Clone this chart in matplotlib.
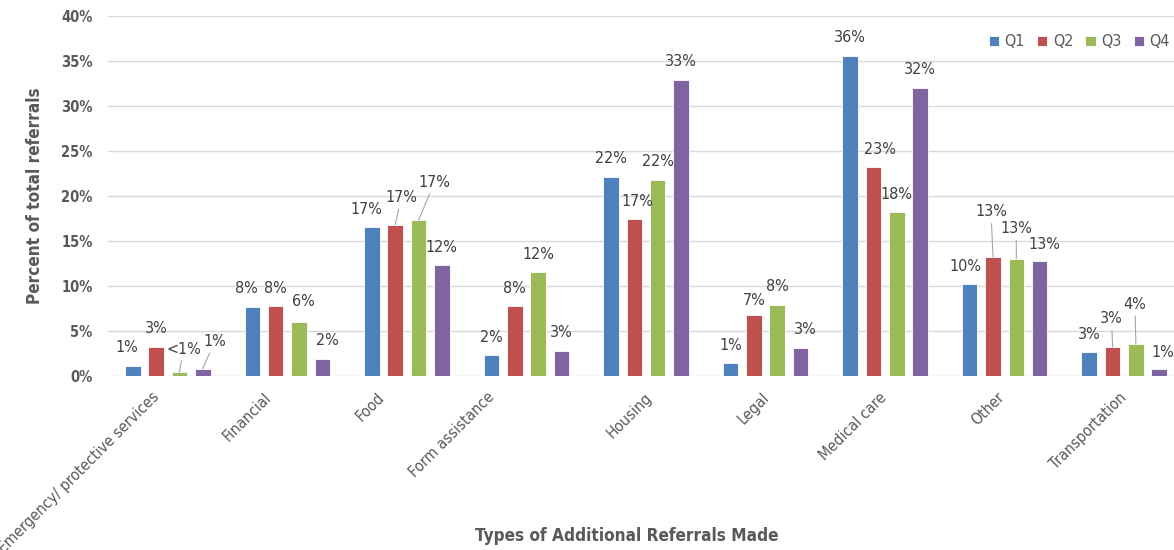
import matplotlib
matplotlib.use("Agg")
import matplotlib.pyplot as plt
import matplotlib.transforms as mtransforms
import numpy as np

plt.rcParams["font.family"] = ["DejaVu Sans"]
plt.rcParams["font.stretch"] = "condensed"

# --- data ---
categories = ["Emergency/ protective services", "Financial", "Food", "Form assistance",
              "Housing", "Legal", "Medical care", "Other", "Transportation"]
series_names = ["Q1", "Q2", "Q3", "Q4"]
q1 = [1.1, 7.6, 16.5, 2.3, 22.1, 1.4, 35.6, 10.2, 2.6]
q2 = [3.2, 7.75, 16.8, 7.7, 17.4, 6.8, 23.2, 13.2, 3.2]
q3 = [0.4, 6.0, 17.3, 11.5, 21.8, 7.9, 18.2, 13.0, 3.5]
q4 = [0.8, 1.9, 12.3, 2.8, 32.9, 3.1, 32.0, 12.7, 0.8]
q1_labels = ["1%", "8%", "17%", "2%", "22%", "1%", "36%", "10%", "3%"]
q2_labels = ["3%", "8%", "17%", "8%", "17%", "7%", "23%", "13%", "3%"]
q3_labels = ["<1%", "6%", "17%", "12%", "22%", "8%", "18%", "13%", "4%"]
q4_labels = ["1%", "2%", "12%", "3%", "33%", "3%", "32%", "13%", "1%"]

values = [q1, q2, q3, q4]
labels = [q1_labels, q2_labels, q3_labels, q4_labels]
colors = ["#4F81BD", "#C0504D", "#9BBB59", "#8064A2"]

# label nudges in pixels (dx, dy above bar top, leader line)
nudge = {
    (0, 0): (-6, 18, False), (0, 2): (4, 23, True), (0, 3): (12, 27, True),
    (1, 0): (-6, 19, False), (1, 2): (4, 20, False), (1, 3): (5, 18, False),
    (2, 0): (-6, 18, False), (2, 1): (6, 27, True), (2, 2): (16, 38, True),
    (4, 1): (3, 18, False),
    (5, 1): (0, 14, False), (5, 3): (5, 18, False),
    (6, 1): (6, 18, False),
    (7, 0): (-4, 17, False), (7, 1): (-2, 45, True), (7, 2): (0, 30, True), (7, 3): (5, 17, False),
    (8, 1): (-1, 28, True), (8, 2): (-1, 40, True), (8, 3): (4, 16, False),
}
cat_nudge = [-16, -24, -30, -40, -2, -4, -6, -8, -5]

text_col = "#595959"
px = 0.72  # points per pixel at dpi 100

fig = plt.figure(figsize=(11.74, 5.5), dpi=100)
ax = fig.add_axes([108 / 1174, 174.3 / 550, 1076 / 1174, 359.7 / 550])

x = np.arange(len(categories))
step = 0.195
width = 0.13
for i in range(4):
    xs = x + (i - 1.5) * step
    ax.bar(xs, values[i], width=width, color=colors[i], edgecolor="white",
           linewidth=0.6, label=series_names[i], zorder=3)
    for j in range(len(categories)):
        dx, dy, leader = nudge.get((j, i), (0, 18, False))
        kw = {}
        if leader:
            kw["arrowprops"] = dict(arrowstyle="-", color="#A6A6A6", lw=0.8,
                                    shrinkA=1, shrinkB=0)
        ax.annotate(labels[i][j], xy=(xs[j], values[i][j]),
                    xytext=(dx * px, dy * px), textcoords="offset points",
                    ha="center", va="center", fontsize=11.5, color="#404040",
                    zorder=4, **kw)

ax.set_xlim(-0.5, len(categories) - 0.5)
ax.set_ylim(0, 40)
ax.set_yticks(np.arange(0, 41, 5))
ax.set_yticklabels([f"{v}%" for v in range(0, 41, 5)], fontsize=10.5,
                   fontweight="bold", color=text_col)
ax.tick_params(axis="y", length=0, pad=11)
ax.set_xticks([])
ax.yaxis.grid(True, color="#D9D9D9", lw=1.0, zorder=0)
ax.set_axisbelow(True)
for s in ax.spines.values():
    s.set_visible(False)

# rotated category labels
for j, name in enumerate(categories):
    off = mtransforms.ScaledTranslation(cat_nudge[j] / 100, -14 / 100, fig.dpi_scale_trans)
    ax.text(j, 0, name, transform=ax.get_xaxis_transform() + off, rotation=45,
            rotation_mode="anchor", ha="right", va="top", fontsize=11.2,
            color=text_col)

fig.text(35 / 1174, 1 - 196 / 550, "Percent of total referrals", rotation=90,
         ha="center", va="center", fontsize=12.3, color=text_col, fontweight="bold")
fig.text(627 / 1174, 1 - 536 / 550, "Types of Additional Referrals Made",
         ha="center", va="center", fontsize=12.3, color=text_col, fontweight="bold")

leg = fig.legend(loc="center right", bbox_to_anchor=(1170 / 1174, 1 - 42 / 550),
                 ncol=4, frameon=False, fontsize=11.5, handlelength=0.65,
                 handleheight=0.65, handletextpad=0.35, columnspacing=0.75,
                 borderpad=0, borderaxespad=0)
for t in leg.get_texts():
    t.set_color(text_col)

fig.savefig("out.png", dpi=100)
